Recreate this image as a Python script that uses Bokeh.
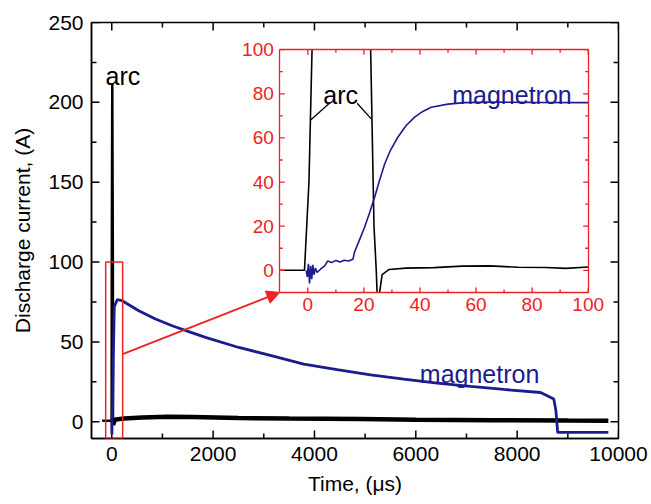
import numpy as np
from bokeh.plotting import figure
from bokeh.models import (Range1d, LinearAxis, FixedTicker, BoxAnnotation, Arrow,
                          NormalHead, Label)
from bokeh.embed import file_html
from bokeh.resources import INLINE

# ---------------- data ----------------
# main panel: arc current (black)
arc_t = [-190, -3, 0, 10, 22, 25, 60, 240, 600, 1100, 1600, 2500, 3500, 4900, 6000, 7500, 9000, 9800]
arc_i = [0.6, 0.6, 100, 212, 100, -2, 1.2, 2.1, 2.6, 3.1, 2.9, 2.3, 2.0, 1.7, 1.2, 0.9, 0.7, 0.6]
# main panel: magnetron current (blue)
mag_t = [-3, 3, 8, 15, 30, 50, 107, 205, 533, 862, 1192, 1520, 1849, 2507, 3166, 3789, 4447,
         5106, 5763, 6422, 7079, 7736, 8461, 8593, 8723, 8765, 8800, 9800]
mag_i = [0, -8, 3, 5, 40, 72, 76.4, 75.8, 69.5, 64.3, 60.1, 56.4, 52.8, 46.5, 41.3, 36.1, 32.6,
         29.4, 26.7, 24.2, 22.1, 20.2, 18.3, 16.3, 14.2, 6.9, -6.7, -6.7]

# inset: arc current (black), NaN where the trace leaves the inset window
inset_arc_t = [-10, -1.2, 0.4, 1.5, np.nan, 22.4, 23.6, 24.4, 24.7, np.nan,
               25.6, 26.5, 29, 35, 45, 55, 65, 75, 85, 92, 100]
inset_arc_i = [0, 0, 40, 100, np.nan, 100, 20, 0, -10, np.nan,
               -10, -2, 0.4, 1.0, 1.2, 1.9, 2.0, 1.4, 1.3, 0.9, 1.5]
# inset: magnetron current (blue)
inset_mag_t = [-0.6, -0.2, 0.2, 0.6, 1.0, 1.4, 1.8, 2.2, 2.7, 3.3, 4.5, 6, 7.1, 8.5, 10, 11.5,
               13, 14.5, 16.1, 16.6, 17.3, 18.5, 20.2, 22, 23.8, 25.5, 27.4, 29.5, 32.1, 35,
               38.1, 41, 44, 50, 55.9, 65, 80, 100]
inset_mag_i = [0, -3, 3, -6, 2, -4, 2.5, -2, 1, -1, 0.5, 2, 4.2, 3.5, 4.5, 3.8, 4.6, 4.2, 5,
               8, 10.3, 14, 19.4, 26, 33, 40.5, 48.2, 54.5, 60.3, 65.5, 69.4, 72, 73.9, 75.3,
               76, 76.2, 76.1, 76]

main_xticks = [0, 2000, 4000, 6000, 8000, 10000]
main_xminor = [1000, 3000, 5000, 7000, 9000]
main_yticks = [0, 50, 100, 150, 200, 250]
main_yminor = [25, 75, 125, 175, 225]
inset_ticks = [0, 20, 40, 60, 80, 100]
inset_minor = [10, 30, 50, 70, 90]

# ---------------- layout constants ----------------
FONT = "Liberation Sans"
BLUE = "#1c1c8e"
RED = "#ee2222"
X_MAIN = (-400, 10000)
Y_MAIN = (-10.5, 250)
IX = (-10, 100)              # inset data window
IY = (-10, 100)
BOX_X = (3316, 9402)         # where the inset sits, in main-plot units
BOX_Y = (81, 233)
ZOOM_BOX = dict(left=-120, right=215, bottom=-10.5, top=100)


def mapped(main, box, inset):
    s = (inset[1] - inset[0]) / (box[1] - box[0])
    return Range1d(inset[0] + (main[0] - box[0]) * s, inset[0] + (main[1] - box[0]) * s)


p = figure(width=651, height=504, x_range=Range1d(*X_MAIN), y_range=Range1d(*Y_MAIN),
           output_backend="svg", toolbar_location=None,
           min_border_left=91, min_border_right=33, min_border_top=22, min_border_bottom=66)
p.extra_x_ranges = {"ix": mapped(X_MAIN, BOX_X, IX)}
p.extra_y_ranges = {"iy": mapped(Y_MAIN, BOX_Y, IY)}
p.grid.visible = False
p.outline_line_color = "black"
p.outline_line_width = 1.5
p.background_fill_color = "white"
p.border_fill_color = "white"


def style_axis(ax, color="black", size="21px", labels=True, width=1.5):
    ax.axis_line_color = color
    ax.axis_line_width = width
    ax.major_tick_line_color = None
    ax.minor_tick_line_color = None
    ax.major_tick_in = 0
    ax.major_tick_out = 0
    ax.minor_tick_in = 0
    ax.minor_tick_out = 0
    ax.major_label_text_font = FONT
    ax.major_label_text_font_size = size
    ax.major_label_text_color = color if labels else None
    ax.axis_label_text_font = FONT
    ax.axis_label_text_font_style = "normal"
    ax.axis_label_text_font_size = "21px"
    ax.axis_label_text_color = "black"


xt = FixedTicker(ticks=main_xticks, minor_ticks=main_xminor)
yt = FixedTicker(ticks=main_yticks, minor_ticks=main_yminor)
p.xaxis.ticker = xt
p.yaxis.ticker = yt
p.xaxis.axis_label = "Time, (\u03bcs)"
p.yaxis.axis_label = "Discharge current, (A)"
for ax in p.xaxis + p.yaxis:
    style_axis(ax)
p.xaxis.major_label_standoff = 8
p.yaxis.major_label_standoff = 8
p.xaxis.axis_label_standoff = 8
p.yaxis.axis_label_standoff = 11


def ticks(xs, ys, length, angle, color, width, **rn):
    p.ray(x=xs, y=ys, length=length, length_units="screen", angle=angle, angle_units="deg",
          line_color=color, line_width=width, **rn)


# inward ticks on all four sides of the main frame
for vals, ln in ((main_xticks, 8), (main_xminor, 5)):
    ticks(vals, [Y_MAIN[0]] * len(vals), ln, 90, "black", 1.5)
    ticks(vals, [Y_MAIN[1]] * len(vals), ln, -90, "black", 1.5)
for vals, ln in ((main_yticks, 8), (main_yminor, 5)):
    ticks([X_MAIN[0]] * len(vals), vals, ln, 0, "black", 1.5)
    ticks([X_MAIN[1]] * len(vals), vals, ln, 180, "black", 1.5)

# ---------------- main traces ----------------
p.line(arc_t[:6], arc_i[:6], line_color="black", line_width=2.5)
p.line(arc_t[5:], arc_i[5:], line_color="black", line_width=4.5)
p.line(mag_t, mag_i, line_color=BLUE, line_width=2.8)

p.add_layout(BoxAnnotation(fill_alpha=0, line_color=RED, line_alpha=1, line_width=1.5,
                           **ZOOM_BOX))
p.add_layout(Arrow(end=NormalHead(size=13, fill_color=RED, line_color=RED, line_width=1),
                   x_start=ZOOM_BOX["right"], y_start=42.3, x_end=BOX_X[0], y_end=BOX_Y[0],
                   line_color=RED, line_width=2))

p.add_layout(Label(x=-124, y=216.7, text="arc", text_font=FONT, text_font_size="25px",
                   text_color="black", text_baseline="alphabetic"))
p.add_layout(Label(x=6079, y=29.9, text="magnetron", text_font=FONT, text_font_size="25px",
                   text_color=BLUE, text_baseline="alphabetic"))

# ---------------- inset ----------------
IR = dict(x_range_name="ix", y_range_name="iy")
p.quad(left=[IX[0]], right=[IX[1]], bottom=[IY[0]], top=[IY[1]], fill_color="white",
       line_color=None, **IR)
p.line(np.array(inset_arc_t), np.array(inset_arc_i), line_color="black", line_width=1.6, **IR)
p.line(inset_mag_t, inset_mag_i, line_color=BLUE, line_width=1.6, **IR)

for vals, ln in ((inset_ticks, 5), (inset_minor, 3)):
    ticks(vals, [IY[0]] * len(vals), ln, 90, RED, 1.3, **IR)
    ticks(vals, [IY[1]] * len(vals), ln, -90, RED, 1.3, **IR)
    ticks([IX[0]] * len(vals), vals, ln, 0, RED, 1.3, **IR)
    ticks([IX[1]] * len(vals), vals, ln, 180, RED, 1.3, **IR)

it = FixedTicker(ticks=inset_ticks, minor_ticks=inset_minor)
for side, loc, lab in (("left", IX[0], True), ("right", IX[1], False)):
    ax = LinearAxis(ticker=it, fixed_location=loc, bounds=IY, **IR)
    style_axis(ax, color=RED, size="19px", labels=lab, width=1.3)
    ax.major_label_standoff = 6
    p.add_layout(ax, side)
for side, loc, lab in (("below", IY[0], True), ("above", IY[1], False)):
    ax = LinearAxis(ticker=it, fixed_location=loc, bounds=IX, **IR)
    style_axis(ax, color=RED, size="19px", labels=lab, width=1.3)
    ax.major_label_standoff = 6
    p.add_layout(ax, side)

p.add_layout(Label(x=5.5, y=79.6, text="arc", text_font=FONT, text_font_size="25px",
                   text_color="black", text_baseline="alphabetic", **IR))
p.add_layout(Label(x=51.5, y=79.6, text="magnetron", text_font=FONT, text_font_size="25px",
                   text_color=BLUE, text_baseline="alphabetic", **IR))
# pointer strokes from the inset "arc" label to the two arc edges
p.segment(x0=[7.7, 17.6], y0=[75.7, 75.7], x1=[1.0, 22.6], y1=[68.1, 68.6],
          line_color="black", line_width=1.3, **IR)

open("out.html", "w").write(file_html(p, INLINE))
